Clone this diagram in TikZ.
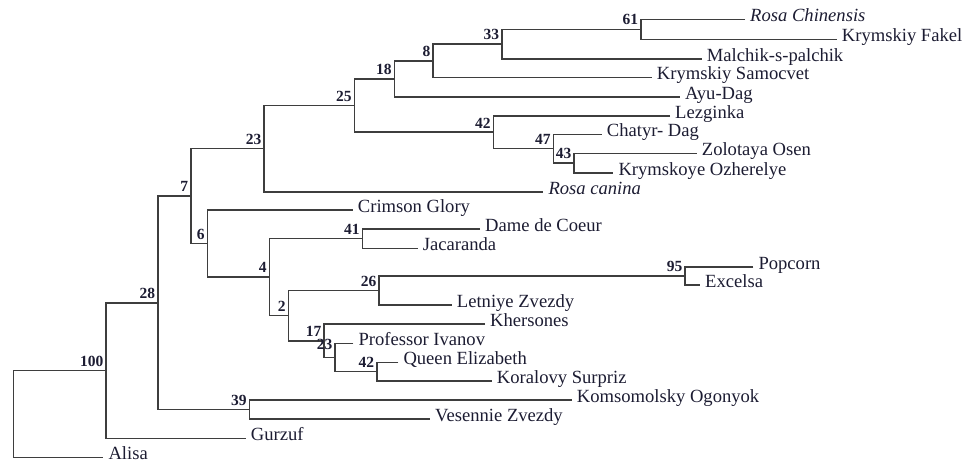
\documentclass[tikz,border=0pt]{standalone}
\usepackage{fontspec}
\setmainfont{Liberation Serif}
\definecolor{txt}{RGB}{28,28,50}
\definecolor{ln}{RGB}{62,62,62}
\tikzset{
  leaf/.style={font=\fontsize{18.6}{20}\selectfont, text=txt, inner xsep=5pt, inner ysep=0pt, anchor=mid west},
  bs/.style={font=\fontsize{15.5}{16}\selectfont\bfseries, text=txt, inner sep=0pt, anchor=south east},
  br/.style={draw=ln, line width=1.6pt},
}
\newcommand{\bslab}[3][4pt]{\node[bs] (l#2) at ([xshift=-2.5pt,yshift=#1]#2) {#3};}
\begin{document}
\begin{tikzpicture}[x=1pt,y=-1pt]
\useasboundingbox (0,0) rectangle (966,459);
% leaves
\node[leaf] (rc)  at (745,19.3)   {\textit{Rosa Chinensis}};
\node[leaf] (kf)  at (836.7,39.3) {Krymskiy Fakel};
\node[leaf] (msp) at (701.7,59)   {Malchik-s-palchik};
\node[leaf] (ks)  at (651.7,77.3) {Krymskiy Samocvet};
\node[leaf] (ayu) at (680,96.7)   {Ayu-Dag};
\node[leaf] (lez) at (670,115.7)  {Lezginka};
\node[leaf] (cd)  at (601.7,134.3){Chatyr- Dag};
\node[leaf] (zo)  at (696.7,153.3){Zolotaya Osen};
\node[leaf] (ko)  at (613.3,172.7){Krymskoye Ozherelye};
\node[leaf] (rca) at (543.3,191.7){\textit{Rosa canina}};
\node[leaf] (cg)  at (352.7,210)  {Crimson Glory};
\node[leaf] (ddc) at (480,229)    {Dame de Coeur};
\node[leaf] (jac) at (417.7,248.3){Jacaranda};
\node[leaf] (pop) at (753.3,266.7){Popcorn};
\node[leaf] (exc) at (700,285)    {Excelsa};
\node[leaf] (lz)  at (451.7,305)  {Letniye Zvezdy};
\node[leaf] (kh)  at (485,324)    {Khersones};
\node[leaf] (pi)  at (353.3,343.3){Professor Ivanov};
\node[leaf] (qe)  at (398.3,362.3){Queen Elizabeth};
\node[leaf] (ksu) at (491.7,381)  {Koralovy Surpriz};
\node[leaf] (kog) at (571.7,400)  {Komsomolsky Ogonyok};
\node[leaf] (vz)  at (430,419)    {Vesennie Zvezdy};
\node[leaf] (gur) at (245.7,438.3){Gurzuf};
\node[leaf] (ali) at (103.3,457.3){Alisa};
% internal nodes
\coordinate (n61)  at (640.7,29.3);
\coordinate (n33)  at (501.7,44.15);
\coordinate (n8)   at (433,60.7);
\coordinate (n18)  at (394.3,78.7);
\coordinate (n43)  at (574,163);
\coordinate (n47)  at (553.3,148.65);
\coordinate (n42a) at (493.3,132.2);
\coordinate (n25)  at (354.3,105.45);
\coordinate (n23a) at (264,148.6);
\coordinate (n41)  at (362.3,238.65);
\coordinate (n95)  at (685,275.85);
\coordinate (n26)  at (379,290.4);
\coordinate (n42b) at (376.7,371.65);
\coordinate (n23b) at (335,357.5);
\coordinate (n17)  at (324,340.75);
\coordinate (n2)   at (288.3,315.6);
\coordinate (n4)   at (269.3,277.1);
\coordinate (n6)   at (207.3,243.55);
\coordinate (n7)   at (190.7,196.1);
\coordinate (n39)  at (249.3,409.5);
\coordinate (n28)  at (157.7,302.8);
\coordinate (n100) at (106,370.55);
\coordinate (root) at (13.3,413.9);
% branches
\draw[br] (rc.mid west) -| (n61) |- (kf.mid west);
\draw[br] (n61) -| (n33) |- (msp.mid west);
\draw[br] (n33) -| (n8) |- (ks.mid west);
\draw[br] (n8) -| (n18) |- (ayu.mid west);
\draw[br] (zo.mid west) -| (n43) |- (ko.mid west);
\draw[br] (cd.mid west) -| (n47) |- (n43);
\draw[br] (lez.mid west) -| (n42a) |- (n47);
\draw[br] (n18) -| (n25) |- (n42a);
\draw[br] (n25) -| (n23a) |- (rca.mid west);
\draw[br] (ddc.mid west) -| (n41) |- (jac.mid west);
\draw[br] (pop.mid west) -| (n95) |- (exc.mid west);
\draw[br] (n95) -| (n26) |- (lz.mid west);
\draw[br] (qe.mid west) -| (n42b) |- (ksu.mid west);
\draw[br] (pi.mid west) -| (n23b) |- (n42b);
\draw[br] (kh.mid west) -| (n17) |- (n23b);
\draw[br] (n26) -| (n2) |- (n17);
\draw[br] (n41) -| (n4) |- (n2);
\draw[br] (cg.mid west) -| (n6) |- (n4);
\draw[br] (n23a) -| (n7) |- (n6);
\draw[br] (kog.mid west) -| (n39) |- (vz.mid west);
\draw[br] (n7) -| (n28) |- (n39);
\draw[br] (n28) -| (n100) |- (gur.mid west);
\draw[br] (n100) -| (root) |- (ali.mid west);
% bootstrap values
\bslab{n61}{61}
\bslab{n33}{33}
\bslab{n8}{8}
\bslab{n18}{18}
\bslab{n43}{43}
\bslab{n47}{47}
\bslab{n42a}{42}
\bslab{n25}{25}
\bslab{n23a}{23}
\bslab{n41}{41}
\bslab{n95}{95}
\bslab{n26}{26}
\bslab{n42b}{42}
\bslab[7.5pt]{n23b}{23}
\bslab{n17}{17}
\bslab{n2}{2}
\bslab{n4}{4}
\bslab{n6}{6}
\bslab{n7}{7}
\bslab{n39}{39}
\bslab{n28}{28}
\bslab{n100}{100}
\end{tikzpicture}
\end{document}
